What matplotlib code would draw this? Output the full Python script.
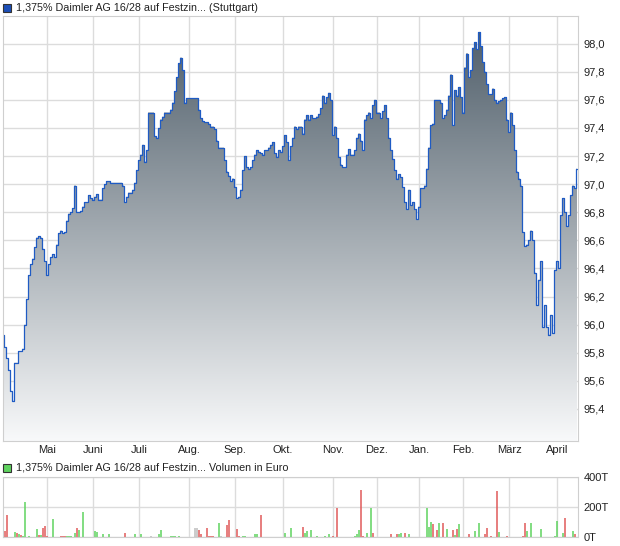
import numpy as np
import matplotlib.pyplot as plt
from matplotlib.colors import LinearSegmentedColormap
from matplotlib.patches import Rectangle

plt.rcParams['font.family'] = ['Liberation Sans', 'DejaVu Sans']

title_price = '1,375% Daimler AG 16/28 auf Festzin... (Stuttgart)'
title_vol = '1,375% Daimler AG 16/28 auf Festzin... Volumen in Euro'
months = ['Apr', 'Mai', 'Juni', 'Juli', 'Aug.', 'Sep.', 'Okt.', 'Nov.', 'Dez.',
          'Jan.', 'Feb.', 'März', 'April']

# daily prices, one list per month
p_apr = [95.93, 95.84, 95.76, 95.68, 95.53, 95.46, 95.73, 95.73, 95.81, 95.81, 95.83,
         96.00, 96.18, 96.35, 96.43, 96.47, 96.55, 96.62, 96.63, 96.62, 96.54, 96.45]
p_mai = [96.35, 96.43, 96.48, 96.50, 96.48, 96.57, 96.65, 96.67, 96.65, 96.66, 96.74,
         96.79, 96.80, 96.83, 96.99, 96.80, 96.80, 96.81, 96.84, 96.87, 96.87, 96.92, 96.90]
p_jun = [96.89, 96.91, 96.93, 96.89, 96.89, 96.97, 97.00, 97.02, 97.02, 97.01, 97.01,
         97.01, 97.01, 97.01, 97.01, 96.99, 96.87, 96.91, 96.94, 96.94, 96.96, 97.01, 97.10]
p_jul = [97.17, 97.21, 97.28, 97.16, 97.24, 97.51, 97.51, 97.51, 97.34, 97.33, 97.40,
         97.46, 97.48, 97.51, 97.51, 97.51, 97.53, 97.58, 97.66, 97.76, 97.86, 97.90,
         97.81, 97.58, 97.61]
p_aug = [97.61, 97.61, 97.61, 97.61, 97.61, 97.53, 97.47, 97.45, 97.44, 97.44, 97.43,
         97.41, 97.41, 97.39, 97.31, 97.26, 97.26, 97.26, 97.17, 97.09, 97.06, 97.02, 97.04]
p_sep = [96.98, 96.90, 96.91, 96.96, 97.10, 97.20, 97.12, 97.11, 97.12, 97.17, 97.21,
         97.24, 97.23, 97.22, 97.21, 97.24, 97.24, 97.26, 97.28, 97.30, 97.22, 97.19,
         97.24, 97.23]
p_okt = [97.27, 97.35, 97.30, 97.17, 97.27, 97.33, 97.41, 97.39, 97.41, 97.41, 97.36,
         97.46, 97.49, 97.46, 97.49, 97.47, 97.47, 97.48, 97.50, 97.54, 97.63, 97.58,
         97.62, 97.65, 97.60]
p_nov = [97.35, 97.41, 97.33, 97.19, 97.14, 97.12, 97.12, 97.21, 97.25, 97.21, 97.21,
         97.24, 97.33, 97.36, 97.31, 97.24, 97.46, 97.49, 97.51, 97.47, 97.56, 97.60]
p_dez = [97.51, 97.51, 97.47, 97.52, 97.56, 97.47, 97.33, 97.24, 97.18, 97.10, 97.04,
         97.07, 97.05, 96.98, 96.87, 96.82, 96.96, 96.85, 96.87, 96.82, 96.75]
p_jan = [96.84, 96.97, 96.97, 96.99, 97.11, 97.26, 97.42, 97.43, 97.60, 97.60, 97.60,
         97.58, 97.47, 97.49, 97.53, 97.63, 97.78, 97.42, 97.67, 97.63, 97.69, 97.62]
p_feb = [97.51, 97.83, 97.93, 97.76, 97.81, 97.97, 98.01, 97.96, 98.08, 97.98, 97.87,
         97.80, 97.71, 97.64, 97.64, 97.68, 97.60, 97.58, 97.59, 97.60, 97.61, 97.62, 97.46]
p_mrz = [97.37, 97.51, 97.42, 97.24, 97.09, 97.04, 96.99, 96.66, 96.56, 96.57, 96.60,
         96.67, 96.60, 96.37, 96.14, 96.32, 96.45, 95.98, 96.14, 95.98, 95.93, 96.07,
         95.94, 96.39]
p_apr2 = [96.45, 96.40, 96.78, 96.90, 96.80, 96.70, 96.78, 96.92, 96.99, 96.97, 97.11]

# volume (thousand EUR): trading day number, value, direction
vol_day = [1, 2, 6, 7, 8, 9, 10, 11, 13, 17, 18, 19, 20, 21, 22, 25, 29, 30, 31, 32, 33,
           34, 36, 37, 38, 40, 46, 47, 50, 53, 61, 66, 69, 74, 78, 79, 84, 85, 86, 88,
           96, 97, 98, 99, 102, 103, 104, 105, 108, 109, 112, 113, 117, 118, 120, 121,
           126, 127, 129, 141, 144, 150, 151, 152, 154, 157, 161, 163, 165, 167, 176,
           177, 178, 179, 180, 182, 184, 185, 194, 197, 198, 199, 201, 203, 205, 212,
           213, 214, 215, 217, 218, 220, 222, 225, 226, 227, 228, 233, 236, 238, 241,
           242, 244, 247, 248, 252, 260, 261, 262, 264, 268, 269, 276, 277, 280, 281,
           285, 286]
vol_val = [41, 150, 34, 30, 23, 14, 7, 232, 7, 52, 14, 14, 59, 75, 7, 120, 7, 7, 7, 7, 7,
           7, 27, 59, 45, 170, 41, 34, 23, 23, 27, 20, 18, 7, 23, 48, 7, 7, 7, 7,
           61, 61, 48, 23, 59, 7, 7, 7, 95, 7, 82, 116, 55, 5, 7, 7,
           20, 20, 150, 27, 59, 68, 27, 41, 48, 7, 7, 20, 7, 195, 7,
           23, 48, 314, 7, 27, 195, 27, 20, 20, 20, 27, 27, 20, 2, 195,
           68, 102, 89, 48, 95, 95, 55, 48, 14, 55, 89, 20, 41, 95, 20,
           61, 7, 307, 34, 7, 7, 95, 41, 95, 2, 55, 7, 109, 27, 130,
           41, 20]
vol_dir = ['r', 'r', 'g', 'r', 'g', 'r', 'g', 'g', 'g', 'g', 'r', 'g', 'r', 'r', 'r', 'g',
           'r', 'r', 'r', 'g', 'g', 'g', 'g', 'r', 'g', 'g', 'g', 'g', 'g', 'g', 'r', 'g',
           'g', 'n', 'g', 'g', 'g', 'g', 'g', 'g', 'n', 'n', 'r', 'r', 'r', 'r', 'r', 'r',
           'g', 'n', 'r', 'r', 'r', 'r', 'g', 'g', 'g', 'g', 'r', 'g', 'g', 'r', 'g', 'g',
           'g', 'g', 'g', 'g', 'r', 'r', 'g', 'g', 'g', 'r', 'r', 'g', 'g', 'r', 'r', 'r',
           'g', 'g', 'r', 'g', 'g', 'g', 'g', 'g', 'r', 'r', 'g', 'r', 'g', 'r', 'g', 'r',
           'g', 'r', 'g', 'g', 'r', 'r', 'r', 'r', 'g', 'r', 'r', 'r', 'g', 'g', 'r', 'g',
           'g', 'g', 'g', 'r', 'g', 'r']

price_months = [p_apr, p_mai, p_jun, p_jul, p_aug, p_sep, p_okt, p_nov, p_dez,
                p_jan, p_feb, p_mrz, p_apr2]
price = np.concatenate(price_months)
x = np.arange(len(price))
starts = np.cumsum([0] + [len(m) for m in price_months[:-1]])

W, H = 620, 546
fig = plt.figure(figsize=(6.2, 5.46), dpi=100)
gc = '#dcdcdc'
tc = '#222222'

# --- price panel
ax = fig.add_axes([3 / W, 1 - 441 / H, 575 / W, 425 / H])
ymin, ymax = 95.172, 98.197
xmin, xmax = 0, len(price) - 0.5

poly = ax.fill_between(x, price, ymin - 1, step='mid', facecolor='none', edgecolor='none')
cmap = LinearSegmentedColormap.from_list('g', ['#f8f9fa', '#4b5a66'])
grad = np.linspace(1, 0, 256).reshape(-1, 1)
im = ax.imshow(grad, extent=[xmin - 1, xmax + 1, ymin, ymax], aspect='auto',
               cmap=cmap, zorder=1, origin='upper', interpolation='bilinear')
im.set_clip_path(poly.get_paths()[0], ax.transData)
ax.plot(x, price, drawstyle='steps-mid', color='#1f5bc4', lw=0.9, zorder=2)

ax.set_xlim(xmin, xmax)
ax.set_ylim(ymin, ymax)
ax.set_axisbelow(True)
ax.grid(True, color=gc, lw=1)
ax.set_xticks(starts[1:])
ax.set_xticklabels(months[1:])
yt = np.arange(95.4, 98.01, 0.2)
ax.set_yticks(yt)
ax.set_yticklabels([f'{v:.1f}'.replace('.', ',') for v in yt])
ax.yaxis.tick_right()
ax.tick_params(length=0, labelsize=8, colors=tc)
ax.tick_params(axis='y', pad=4)
ax.tick_params(axis='x', pad=3)
for s in ax.spines.values():
    s.set_color('#cfcfcf')

# --- volume panel
av = fig.add_axes([3 / W, 1 - 537 / H, 575 / W, 60 / H])
cols = {'g': '#5fd35f', 'r': '#e05a5a', 'n': '#bdbdbd'}
av.vlines(vol_day, 0, vol_val, colors=[cols[d] for d in vol_dir], lw=1.1, zorder=2)
av.set_xlim(xmin, xmax)
av.set_ylim(0, 400)
av.set_axisbelow(True)
av.grid(True, color=gc, lw=1)
av.set_xticks(starts[1:])
av.set_xticklabels([])
av.set_yticks([0, 200, 400])
av.set_yticklabels(['0T', '200T', '400T'])
av.yaxis.tick_right()
av.tick_params(length=0, labelsize=8, colors=tc, pad=4)
for s in av.spines.values():
    s.set_color('#cfcfcf')

# --- headers
fig.add_artist(Rectangle((3 / W, 1 - 12 / H), 8 / W, 8 / H, transform=fig.transFigure,
                         facecolor='#1c4fb8', edgecolor='#333333', lw=0.8))
fig.text(16 / W, 1 - 8 / H, title_price, fontsize=7.75, color=tc, va='center')
fig.add_artist(Rectangle((3 / W, 1 - 472 / H), 8 / W, 8 / H, transform=fig.transFigure,
                         facecolor='#5fd35f', edgecolor='#333333', lw=0.8))
fig.text(16 / W, 1 - 468 / H, title_vol, fontsize=7.75, color=tc, va='center')

fig.savefig('out.png', dpi=100)
